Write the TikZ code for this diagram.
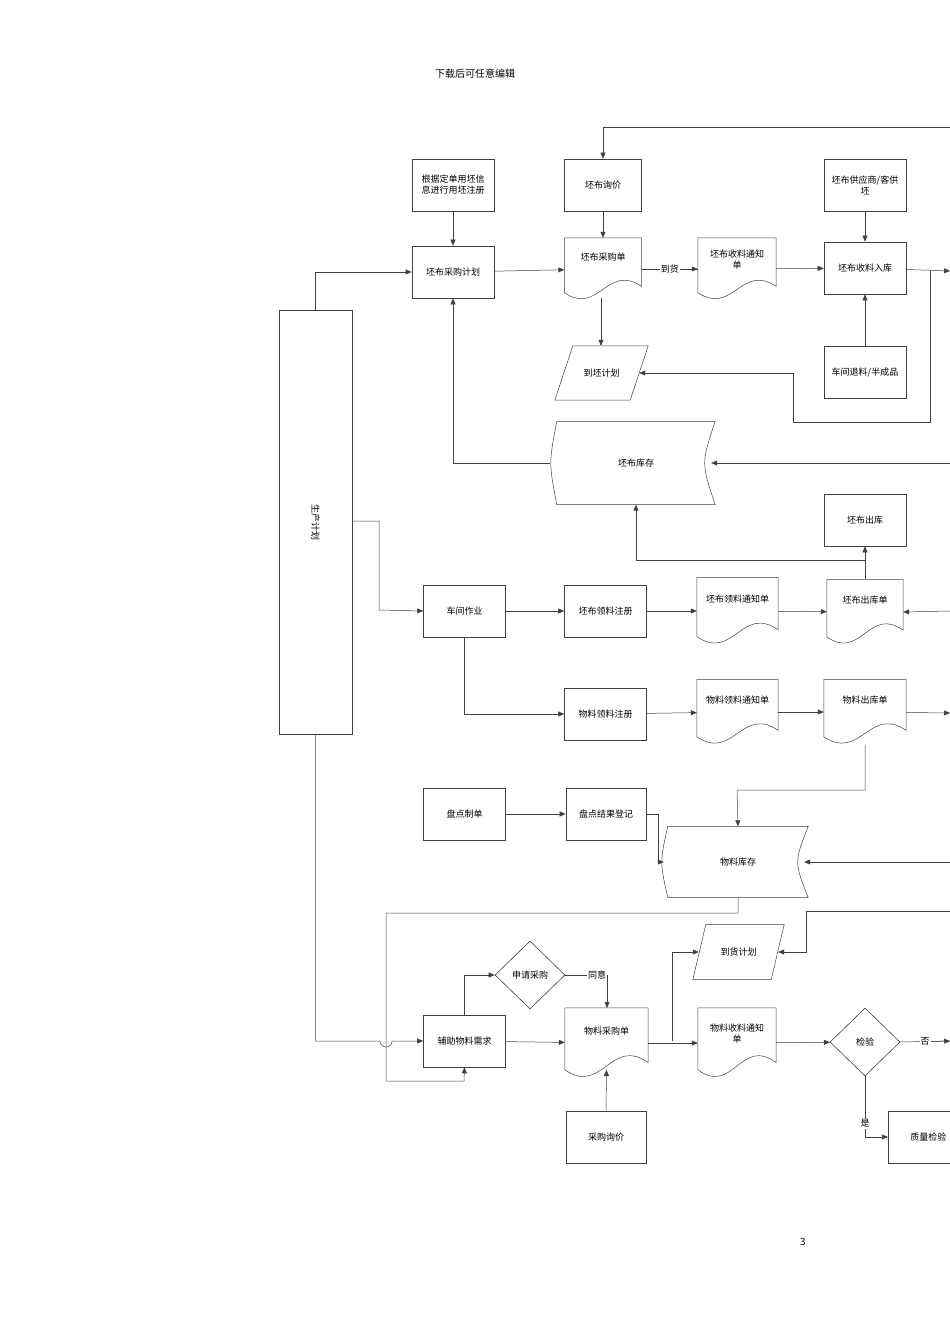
\documentclass[tikz,border=0pt]{standalone}
\usepackage{fontspec}
\setmainfont{Noto Sans CJK SC}
\usetikzlibrary{arrows.meta,shapes.geometric,calc}
\begin{document}
\begin{tikzpicture}[x=1pt,y=-1pt,
  line/.style={draw=black!75,line width=0.5pt},
  arr/.style={line,-{Triangle[length=6pt,width=5pt]}},
  box/.style={draw=black!75,line width=0.6pt,minimum width=82pt,minimum height=52pt,font=\fontsize{9}{11}\selectfont,align=center,inner sep=1pt},
  ghost/.style={minimum width=80pt,minimum height=64pt,font=\fontsize{9}{11}\selectfont,align=center,inner sep=1pt},
  dia/.style={draw=black!75,line width=0.6pt,diamond,minimum width=70pt,minimum height=68pt,font=\fontsize{9}{11}\selectfont,inner sep=0pt},
  lab/.style={fill=white,font=\fontsize{9}{11}\selectfont,inner sep=1pt}]
\useasboundingbox (0,0) rectangle (950,1344);
\newcommand{\docpath}[1]{%
  \path let \p1=(#1.north west), \p2=(#1.south east) in
    [line] (\x1,\y1) -- (\x2,\y1) -- (\x2,{\y2+0.22*(\y1-\y2)})
    .. controls ({\x1+0.55*(\x2-\x1)},{\y2+0.6*(\y1-\y2)}) and ({\x1+0.45*(\x2-\x1)},{\y2-0.25*(\y1-\y2)}) ..
    (\x1,{\y2+0.12*(\y1-\y2)}) -- cycle;}
\newcommand{\storepath}[1]{%
  \path let \p1=(#1.north west), \p2=(#1.south east) in
    [line] (\x1,\y1) -- (\x2,\y1) .. controls ({\x2-14},{0.5*(\y1+\y2)}) .. (\x2,\y2)
    -- (\x1,\y2) .. controls ({\x1-8},{0.5*(\y1+\y2)}) .. (\x1,\y1) -- cycle;}
\newcommand{\parapath}[2]{%
  \path let \p1=(#1.north west), \p2=(#1.south east) in
    [line] ({\x1+#2},\y1) -- (\x2,\y1) -- ({\x2-#2},\y2) -- (\x1,\y2) -- cycle;}

\node[font=\fontsize{10}{12}\selectfont] (hdr) at (475,74) {下载后可任意编辑};
\node[font=\fontsize{10}{12}\selectfont] (pg) at (803,1242) {3};

\node[box,minimum width=73pt,minimum height=424pt] (prod) at (315.5,522) {};
\node[rotate=-90,font=\fontsize{9}{11}\selectfont] (prodt) at (315.5,522) {生产计划};

\node[box] (reg) at (453,185) {根据定单用坯信\\息进行用坯注册};
\node[box] (pplan) at (453,272) {坯布采购计划};
\node[box,minimum width=77pt] (inq) at (603,185) {坯布询价};
\node[ghost,minimum width=77pt,minimum height=62pt] (porder) at (603,269) {坯布采购单\\[14pt]};
\docpath{porder}
\node[ghost,minimum width=78pt,minimum height=62pt] (rnote) at (737,269) {坯布收料通知\\单\\[8pt]};
\docpath{rnote}
\node[box] (rin) at (865,268) {坯布收料入库};
\node[box] (sup) at (865,185) {坯布供应商/客供\\坯};
\node[box] (ret) at (865,372) {车间退料/半成品};
\node[ghost,minimum width=93pt,minimum height=54pt] (arrp) at (601.5,373) {到坯计划};
\parapath{arrp}{18}
\node[ghost,minimum width=158pt,minimum height=83pt] (gstore) at (636,463) {坯布库存};
\storepath{gstore}
\node[box] (gout) at (865,520) {坯布出库};
\node[ghost,minimum width=76pt,minimum height=65pt] (gouto) at (865,612) {坯布出库单\\[14pt]};
\docpath{gouto}
\node[box] (work) at (464.5,611) {车间作业};
\node[box] (greq) at (605.5,611) {坯布领料注册};
\node[ghost,minimum width=81pt,minimum height=67pt] (gnote) at (737.5,611) {坯布领料通知单\\[14pt]};
\docpath{gnote}
\node[box] (mreq) at (605.5,714) {物料领料注册};
\node[ghost,minimum width=81pt,minimum height=65pt] (mnote) at (737.5,712) {物料领料通知单\\[14pt]};
\docpath{mnote}
\node[ghost,minimum width=82pt,minimum height=65pt] (mout) at (865,712) {物料出库单\\[14pt]};
\docpath{mout}
\node[box] (cnt) at (464.5,814) {盘点制单};
\node[box,minimum width=80pt] (cres) at (606,814) {盘点结果登记};
\node[ghost,minimum width=140pt,minimum height=71pt] (mstore) at (738,862) {物料库存};
\storepath{mstore}
\node[box] (aux) at (464.5,1041) {辅助物料需求};
\node[dia] (apply) at (530,975) {申请采购};
\node[ghost,minimum width=83pt,minimum height=70pt] (morder) at (606.5,1043) {物料采购单\\[14pt]};
\docpath{morder}
\node[ghost,minimum width=91pt,minimum height=55pt] (marr) at (738.5,952) {到货计划};
\parapath{marr}{13}
\node[ghost,minimum width=78pt,minimum height=70pt] (mrnote) at (737,1043) {物料收料通知\\单\\[8pt]};
\docpath{mrnote}
\node[dia] (chk) at (865,1042) {检验};
\node[box,minimum width=80pt] (minq) at (606,1137) {采购询价};
\node[box,minimum width=80pt,anchor=west] (qc) at (888,1137) {质量检验};

\coordinate (Rtop) at (950,127);
\coordinate (Rin) at (950,271);
\coordinate (Rgs) at (950,463);
\coordinate (Rgo) at (950,611);
\coordinate (Rmo) at (950,713);
\coordinate (Rms) at (950,862);
\coordinate (Rma) at (950,911);
\coordinate (Rno) at (950,1041);
\coordinate (p521) at (352,521);
\coordinate (mo1) at (607,1008);
\coordinate (mo2) at (606.5,1070);
\coordinate (po1) at (601,298);

% top section
\draw[arr] (Rtop) -| (inq.north);
\draw[arr] (reg) -- (pplan);
\draw[arr] (inq) -- (porder);
\draw[arr] (prod.north) |- (pplan.west);
\draw[arr] (pplan) -- (porder);
\draw[line] (porder.east) -- node[lab] (dh) {到货} (rnote.west);
\draw[arr] (dh.east) -- (rnote.west);
\draw[arr] (rnote) -- (rin);
\draw[arr] (sup) -- (rin);
\draw[arr] (ret) -- (rin);
\draw[arr] (rin) -- (Rin);
\draw[arr] (po1) -- (arrp.north -| po1);
\draw[arr] (930,271) |- (793,422) |- ([xshift=-9pt]arrp.east);
\draw[arr] (Rgs) -- ([xshift=-4pt]gstore.east);
\draw[arr] ([xshift=-7pt]gstore.west) -| (pplan.south);
% middle
\draw[arr] (gouto.north) -- (gout.south);
\draw[arr] (865,560) -| (gstore.south);
\draw[arr] (p521) -| (379,610) -- (work.west);
\draw[arr] (work) -- (greq);
\draw[arr] (greq) -- (gnote);
\draw[arr] (gnote) -- (gouto);
\draw[arr] (Rgo) -- (gouto.east);
\draw[arr] (work.south) |- (mreq.west);
\draw[arr] (mreq) -- (mnote);
\draw[arr] (mnote) -- (mout);
\draw[arr] (mout) -- (Rmo);
\draw[arr] (mout.south) |- (737,790) -- (mstore.north);
\draw[arr] (cnt) -- (cres);
\draw[arr] (cres.east) -| (658,862) -- ([xshift=-4pt]mstore.west);
\draw[arr] (Rms) -- ([xshift=-4pt]mstore.east);
% bottom
\draw[arr] (mstore.south) |- (386,913) |- (464,1081) -- (aux.south);
\draw[arr] (prod.south) |- (380,1041) arc[start angle=180,end angle=0,radius=6] -- (aux.west);
\draw[arr] (aux.north) |- (apply.west);
\draw[line] (apply.east) -- node[lab,pos=1] (ty) {同意} (597,975);
\draw[line] (ty.east) -- (607,975);
\draw[arr] (607,975) -- (mo1);
\draw[arr] (aux) -- (morder);
\draw[arr] (morder) -- (mrnote);
\draw[arr] (672,1041) |- ([xshift=6pt]marr.west);
\draw[arr] (Rma) -| (806,952) -- ([xshift=-6pt]marr.east);
\draw[arr] (minq.north) -- (mo2);
\draw[arr] (mrnote) -- (chk);
\draw[line] (chk.east) -- node[lab] (no) {否} (Rno);
\draw[arr] (no.east) -- (Rno);
\draw[line] (chk.south) -- node[lab,pos=0.78] (yes) {是} (865,1137);
\draw[arr] (865,1137) -- (qc.west);
\end{tikzpicture}
\end{document}
